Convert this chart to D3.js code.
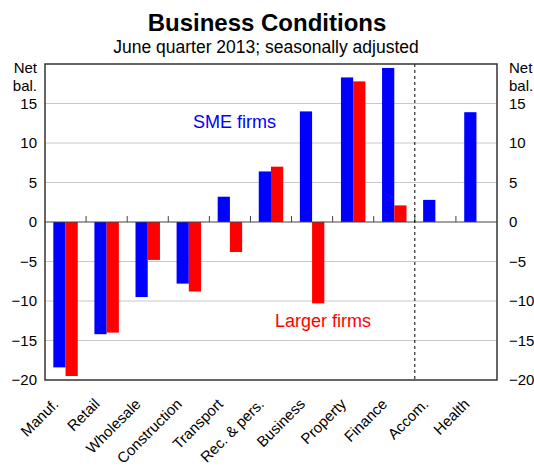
<!DOCTYPE html>
<html>
<head>
<meta charset="utf-8">
<script src="https://cdn.jsdelivr.net/npm/d3@7"></script>
<style>
  html, body { margin: 0; padding: 0; background: #fff; }
  svg { display: block; font-family: Arial, "Liberation Sans", sans-serif; }
</style>
</head>
<body>
<svg id="chart" width="534" height="469"></svg>
<script>
const categories = ["Manuf.", "Retail", "Wholesale", "Construction", "Transport", "Rec. & pers.", "Business", "Property", "Finance", "Accom.", "Health"];
const smeValues = [-18.4, -14.2, -9.5, -7.8, 3.2, 6.4, 14.0, 18.3, 19.5, 2.8, 13.9];
const largerValues = [-19.5, -14.0, -4.8, -8.8, -3.8, 7.0, -10.3, 17.8, 2.1, null, null];
const yTicks = [-20, -15, -10, -5, 0, 5, 10, 15];
const gridValues = [-15, -10, -5, 5, 10, 15];
const seriesNames = ["SME firms", "Larger firms"];
const seriesColors = ["#0000ff", "#ff0000"];

const svg = d3.select("#chart");
const plotLeft = 45, plotRight = 497, plotTop = 64, plotBottom = 380;

const x = d3.scaleBand().domain(categories).range([plotLeft, plotRight]).paddingInner(0).paddingOuter(0);
const xs = d3.scaleBand().domain(seriesNames).range([0, x.bandwidth()]).paddingInner(0).paddingOuter(0.68);
const y = d3.scaleLinear().domain([-20, 20]).range([plotBottom, plotTop]);

// Title
svg.append("text").attr("x", 267).attr("y", 31).attr("text-anchor", "middle")
  .attr("font-size", 24).attr("font-weight", "bold").text("Business Conditions");
svg.append("text").attr("x", 266).attr("y", 53).attr("text-anchor", "middle")
  .attr("font-size", 17.5).text("June quarter 2013; seasonally adjusted");

// Gridlines
svg.append("g").selectAll("line").data(gridValues).join("line")
  .attr("x1", plotLeft).attr("x2", plotRight)
  .attr("y1", d => y(d)).attr("y2", d => y(d))
  .attr("stroke", "#c8c8c8").attr("stroke-width", 1);

// Bars
const data = categories.map((c, i) => ({ cat: c, vals: [smeValues[i], largerValues[i]] }));
const groups = svg.append("g").selectAll("g").data(data).join("g")
  .attr("transform", d => `translate(${x(d.cat)},0)`);
groups.selectAll("rect")
  .data(d => d.vals.map((v, j) => ({ v, s: seriesNames[j], col: seriesColors[j] })).filter(e => e.v !== null))
  .join("rect")
  .attr("x", e => xs(e.s))
  .attr("width", xs.bandwidth())
  .attr("y", e => y(Math.max(0, e.v)))
  .attr("height", e => Math.abs(y(e.v) - y(0)))
  .attr("fill", e => e.col);

// Zero line and category ticks
svg.append("line").attr("x1", plotLeft).attr("x2", plotRight).attr("y1", y(0)).attr("y2", y(0))
  .attr("stroke", "#444").attr("stroke-width", 1.2);
svg.append("g").selectAll("line").data(categories.slice(1)).join("line")
  .attr("x1", d => x(d)).attr("x2", d => x(d))
  .attr("y1", y(0)).attr("y2", y(0) - 6)
  .attr("stroke", "#444").attr("stroke-width", 1);

// Dashed separator between Finance and Accom.
svg.append("line").attr("x1", x("Accom.")).attr("x2", x("Accom."))
  .attr("y1", plotTop).attr("y2", plotBottom)
  .attr("stroke", "#000").attr("stroke-width", 1).attr("stroke-dasharray", "3,3");

// Frame
svg.append("rect").attr("x", plotLeft).attr("y", plotTop).attr("width", plotRight - plotLeft).attr("height", plotBottom - plotTop)
  .attr("fill", "none").attr("stroke", "#333").attr("stroke-width", 1.5);

// Y axes
const yAxisL = d3.axisLeft(y).tickValues(yTicks).tickSize(0).tickPadding(8);
const yAxisR = d3.axisRight(y).tickValues(yTicks).tickSize(0).tickPadding(12);
const gl = svg.append("g").attr("transform", `translate(${plotLeft},0)`).call(yAxisL);
const gr = svg.append("g").attr("transform", `translate(${plotRight},0)`).call(yAxisR);
[gl, gr].forEach(g => {
  g.select(".domain").remove();
  g.selectAll("text").attr("font-size", 15).attr("font-family", "Arial, 'Liberation Sans', sans-serif").attr("fill", "#000");
});

// Units
[["end", 37], ["start", 509]].forEach(([anchor, xx]) => {
  svg.append("text").attr("x", xx).attr("y", 73).attr("text-anchor", anchor).attr("font-size", 15).text("Net");
  svg.append("text").attr("x", xx).attr("y", 91).attr("text-anchor", anchor).attr("font-size", 15).text("bal.");
});

// X labels
svg.append("g").selectAll("text").data(categories).join("text")
  .attr("transform", d => `translate(${x(d) + x.bandwidth() / 2 - 6},${plotBottom + 25}) rotate(-45)`)
  .attr("text-anchor", "end").attr("font-size", 15).text(d => d);

// Series labels
svg.append("text").attr("x", 193).attr("y", 128).attr("font-size", 18).attr("fill", seriesColors[0]).text(seriesNames[0]);
svg.append("text").attr("x", 275).attr("y", 327).attr("font-size", 18).attr("fill", seriesColors[1]).text(seriesNames[1]);
</script>
</body>
</html>
